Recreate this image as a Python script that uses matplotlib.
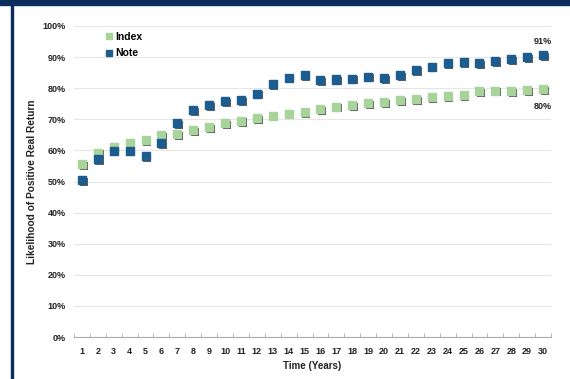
import numpy as np
import matplotlib.pyplot as plt
import matplotlib.patheffects as pe
from matplotlib.ticker import FuncFormatter, MultipleLocator

plt.rcParams['font.family'] = ['Liberation Sans', 'DejaVu Sans']
plt.rcParams['font.weight'] = 'bold'

years = list(range(1, 31))
index_vals = [55.6, 59.3, 61.0, 62.4, 63.3, 64.8, 65.3, 66.6, 67.4, 68.7,
              69.5, 70.4, 71.2, 71.8, 72.3, 73.2, 74.1, 74.5, 75.1, 75.6,
              76.1, 76.5, 77.1, 77.5, 77.8, 79.0, 79.2, 79.1, 79.4, 79.6]
note_vals = [50.4, 57.2, 59.9, 59.9, 58.2, 62.3, 68.7, 72.9, 74.6, 75.8,
             76.1, 78.2, 81.2, 83.4, 84.3, 82.6, 82.8, 83.1, 83.7, 83.3,
             84.2, 85.9, 86.9, 88.0, 88.3, 88.0, 88.8, 89.4, 89.9, 90.6]
end_labels = ['91%', '80%']

index_color = '#a8d49c'
note_color = '#1d5c8e'
navy = '#0b2d5e'

fig = plt.figure(figsize=(5.7, 3.79), dpi=100)
ax = fig.add_axes([0.1298, 0.1108, 0.8369, 0.8206])

shadow = [pe.SimplePatchShadow(offset=(1.2, -1.2), shadow_rgbFace='#2a2a2a', alpha=0.75),
          pe.Normal()]

ax.plot(years, index_vals, ls='none', marker='s', ms=5.8, mfc=index_color,
        mec=index_color, path_effects=shadow, zorder=3)
ax.plot(years, note_vals, ls='none', marker='s', ms=5.8, mfc=note_color,
        mec=note_color, path_effects=shadow, zorder=4)

# legend drawn as plain squares
h1, = ax.plot([], [], ls='none', marker='s', ms=4.5, mfc=index_color, mec=index_color, label='Index')
h2, = ax.plot([], [], ls='none', marker='s', ms=4.5, mfc=note_color, mec=note_color, label='Note')
leg = ax.legend(handles=[h1, h2], loc='upper left', bbox_to_anchor=(0.058, 0.995),
                frameon=False, fontsize=7.5, handlelength=0.6, handletextpad=0.3,
                labelspacing=0.65, borderaxespad=0)

ax.annotate(end_labels[0], (years[-1], note_vals[-1]), xytext=(0, 7),
            textcoords='offset points', ha='center', va='bottom', fontsize=6.5, color='#222222')
ax.annotate(end_labels[1], (years[-1], index_vals[-1]), xytext=(0, -9),
            textcoords='offset points', ha='center', va='top', fontsize=6.5, color='#222222')

ax.set_xlim(0.5, 30.5)
ax.set_ylim(0, 100)
ax.set_xticks(years)
ax.xaxis.set_minor_locator(MultipleLocator(1, offset=0.5))
ax.yaxis.set_major_locator(MultipleLocator(10))
ax.yaxis.set_major_formatter(FuncFormatter(lambda v, p: '%d%%' % v))
ax.tick_params(axis='x', which='major', length=0, labelsize=6.5, pad=7, colors='#222222')
ax.tick_params(axis='x', which='minor', length=3, direction='in', color='#aaaaaa')
ax.tick_params(axis='y', length=0, labelsize=6.5, pad=6, colors='#222222')
for lab in ax.get_xticklabels() + ax.get_yticklabels():
    lab.set_fontweight('bold')

ax.grid(axis='y', color='#e6e6e6', lw=0.8)
ax.set_axisbelow(True)
for s in ['top', 'right', 'left']:
    ax.spines[s].set_visible(False)
ax.spines['bottom'].set_color('#aaaaaa')
ax.spines['bottom'].set_linewidth(0.8)

ax.set_xlabel('Time (Years)', fontsize=7, fontweight='bold', labelpad=4, color='#222222')
ax.set_ylabel('Likelihood of Positive Real Return', fontsize=7.3, fontweight='bold',
              labelpad=4, color='#222222')

# navy border on top and left
fig.patches.append(plt.Rectangle((0, 1 - 5 / 379), 1, 5 / 379, transform=fig.transFigure,
                                 color=navy, zorder=10))
fig.patches.append(plt.Rectangle((11 / 570, 0), 2 / 570, 1, transform=fig.transFigure,
                                 color=navy, zorder=10))

fig.savefig('out.png', dpi=100)
